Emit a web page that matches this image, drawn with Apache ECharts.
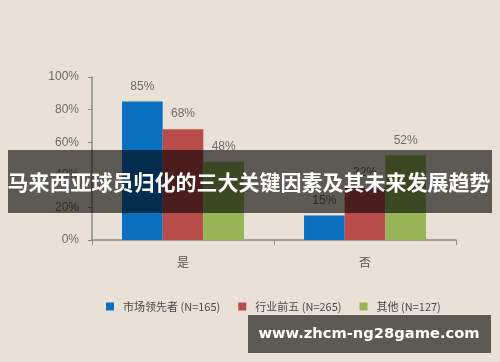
<!DOCTYPE html>
<html><head><meta charset="utf-8">
<script src="https://cdn.jsdelivr.net/npm/echarts@6/dist/echarts.min.js"></script>
<style>html,body{margin:0;padding:0;background:#e9e1d5}#c{width:500px;height:362px}</style>
</head><body><div id="c"></div>
<script>
const categories = ['是', '否'];
const seriesNames = ['市场领先者 (N=165)', '行业前五 (N=265)', '其他 (N=127)'];
const leaders = [85, 15];
const top5 = [68, 32];
const others = [48, 52];
const yTicks = [0, 20, 40, 60, 80, 100];
const titleText = '马来西亚球员归化的三大关键因素及其未来发展趋势';
const watermark = 'www.zhcm-ng28game.com';

const colors = ['#0b6fbf', '#b84c4a', '#97b457'];
const font = '"Liberation Sans Narrow","Liberation Sans",Arial,sans-serif';
const chart = echarts.init(document.getElementById('c'));
const mk = (name, data, i) => ({
  name, type: 'bar', data, barGap: '0%', barCategoryGap: '33%',
  itemStyle: {color: colors[i]},
  label: {show: true, position: 'top', distance: 9, formatter: '{c}%', color: '#6a6a6a', fontSize: 12, fontFamily: font}
});
chart.setOption({
  backgroundColor: '#e9e1d5',
  animation: false,
  grid: {left: 92, right: 44, top: 77, bottom: 122},
  xAxis: {
    type: 'category', data: categories,
    axisLine: {lineStyle: {color: '#8a8a8a', width: 1.5}},
    axisTick: {show: true, length: 5, lineStyle: {color: '#8a8a8a'}},
    axisLabel: {color: '#555', fontSize: 12, margin: 16, fontFamily: '"Noto Sans CJK SC",sans-serif'}
  },
  yAxis: {
    type: 'value', min: yTicks[0], max: yTicks[yTicks.length - 1], interval: 20,
    axisLine: {show: true, lineStyle: {color: '#8a8a8a', width: 1.5}},
    axisTick: {show: true, length: 4, lineStyle: {color: '#8a8a8a'}},
    splitLine: {show: false},
    axisLabel: {color: '#6a6a6a', fontSize: 12, margin: 13, fontFamily: font, formatter: '{value}%'}
  },
  legend: {
    left: 101, top: 296, itemWidth: 8, itemHeight: 8, itemGap: 18, icon: 'rect',
    textStyle: {color: '#4a4a4a', fontSize: 11, fontFamily: '"Noto Sans CJK SC",sans-serif', padding: [0, 0, 0, 4]},
    data: seriesNames
  },
  series: [mk(seriesNames[0], leaders, 0), mk(seriesNames[1], top5, 1), mk(seriesNames[2], others, 2)],
  graphic: [
    {type: 'rect', z: 100, shape: {x: 8, y: 150, width: 484, height: 63}, style: {fill: 'rgba(0,0,0,0.6)'}},
    {type: 'text', z: 101, x: 249, y: 182, style: {text: titleText, fill: '#fff', fontSize: 21, fontWeight: 'bold', fontFamily: '"Noto Sans CJK SC",sans-serif', align: 'center', verticalAlign: 'middle'}},
    {type: 'rect', z: 100, shape: {x: 248, y: 315, width: 243, height: 38}, style: {fill: 'rgba(0,0,0,0.6)'}},
    {type: 'text', z: 101, x: 369, y: 334, style: {text: watermark, fill: '#fff', fontSize: 14.7, fontWeight: 'bold', fontFamily: '"DejaVu Sans",sans-serif', align: 'center', verticalAlign: 'middle'}}
  ]
});
</script></body></html>
